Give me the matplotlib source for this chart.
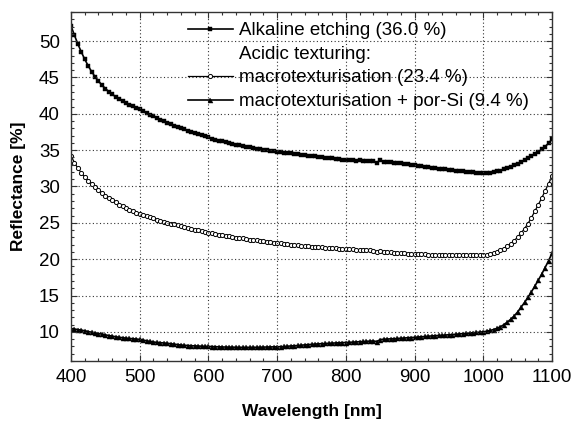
import numpy as np
import matplotlib
matplotlib.use("Agg")
import matplotlib.pyplot as plt
from matplotlib.lines import Line2D
from matplotlib.ticker import MultipleLocator

plt.rcParams['font.family'] = ['Liberation Sans', 'DejaVu Sans']

# Wavelength grid (nm), 5 nm steps, 400..1100
wavelength = list(range(400, 1101, 5))

alkaline = [
    52.1, 50.8, 49.6, 48.5, 47.5, 46.6, 45.8, 45.1, 44.5, 43.95,
    43.47, 43.05, 42.68, 42.35, 42.05, 41.77, 41.51, 41.27, 41.04, 40.82,
    40.6, 40.35, 40.1, 39.86, 39.63, 39.41, 39.19, 38.98, 38.77, 38.57,
    38.37, 38.19, 38.01, 37.84, 37.67, 37.51, 37.35, 37.2, 37.05, 36.9,
    36.76, 36.58, 36.45, 36.32, 36.2, 36.08, 35.97, 35.86, 35.76, 35.66,
    35.56, 35.47, 35.38, 35.3, 35.22, 35.14, 35.07, 35.0, 34.93, 34.86,
    34.8, 34.73, 34.66, 34.6, 34.54, 34.48, 34.42, 34.37, 34.32, 34.26,
    34.2, 34.14, 34.08, 34.02, 33.97, 33.92, 33.86, 33.8, 33.74, 33.69,
    33.64, 33.6, 33.6, 33.57, 33.58, 33.55, 33.52, 33.55, 33.5, 33.3,
    33.6, 33.42, 33.4, 33.33, 33.3, 33.25, 33.2, 33.15, 33.05, 33.0,
    32.92, 32.85, 32.78, 32.72, 32.66, 32.6, 32.52, 32.47, 32.4, 32.35,
    32.3, 32.24, 32.18, 32.12, 32.07, 32.02, 31.98, 31.95, 31.92, 31.9,
    31.88, 31.88, 31.9, 31.98, 32.08, 32.2, 32.35, 32.52, 32.7, 32.9,
    33.1, 33.35, 33.6, 33.88, 34.15, 34.45, 34.75, 35.1, 35.5, 35.95,
    36.5,
]

macro = [
    34.2, 33.3, 32.5, 31.9, 31.3, 30.8, 30.35, 29.9, 29.5, 29.1,
    28.75, 28.42, 28.1, 27.8, 27.52, 27.26, 27.02, 26.8, 26.6, 26.42,
    26.25, 26.08, 25.92, 25.76, 25.6, 25.45, 25.3, 25.16, 25.02, 24.9,
    24.78, 24.66, 24.54, 24.42, 24.3, 24.18, 24.06, 23.95, 23.84, 23.74,
    23.64, 23.54, 23.45, 23.37, 23.3, 23.22, 23.14, 23.06, 22.98, 22.91,
    22.85, 22.78, 22.71, 22.64, 22.58, 22.52, 22.46, 22.4, 22.34, 22.28,
    22.23, 22.17, 22.11, 22.05, 22.0, 21.95, 21.9, 21.86, 21.82, 21.78,
    21.74, 21.7, 21.66, 21.62, 21.58, 21.55, 21.52, 21.49, 21.46, 21.43,
    21.4, 21.38, 21.35, 21.32, 21.3, 21.27, 21.24, 21.22, 21.18, 21.0,
    21.15, 21.05, 21.0, 20.95, 20.92, 20.88, 20.85, 20.8, 20.78, 20.76,
    20.73, 20.7, 20.68, 20.66, 20.64, 20.62, 20.6, 20.58, 20.57, 20.56,
    20.55, 20.54, 20.54, 20.53, 20.53, 20.52, 20.52, 20.52, 20.53, 20.55,
    20.58, 20.62, 20.7, 20.82, 20.98, 21.2, 21.45, 21.75, 22.1, 22.55,
    23.05, 23.6, 24.2, 24.9, 25.7, 26.6, 27.5, 28.4, 29.4, 30.4,
    31.4,
]

porsi = [
    10.45, 10.4, 10.33, 10.25, 10.15, 10.05, 9.95, 9.86, 9.78, 9.7,
    9.6, 9.5, 9.42, 9.33, 9.26, 9.2, 9.15, 9.1, 9.06, 9.02,
    8.98, 8.88, 8.78, 8.7, 8.62, 8.56, 8.52, 8.48, 8.44, 8.38,
    8.32, 8.26, 8.2, 8.16, 8.13, 8.1, 8.08, 8.06, 8.04, 8.02,
    8.0, 7.98, 7.96, 7.94, 7.93, 7.92, 7.91, 7.9, 7.9, 7.89,
    7.88, 7.88, 7.88, 7.88, 7.89, 7.9, 7.9, 7.91, 7.92, 7.93,
    7.95, 7.97, 8.0, 8.03, 8.06, 8.1, 8.14, 8.18, 8.22, 8.26,
    8.3, 8.33, 8.36, 8.39, 8.42, 8.44, 8.46, 8.48, 8.5, 8.52,
    8.54, 8.57, 8.6, 8.63, 8.66, 8.69, 8.72, 8.74, 8.76, 8.68,
    8.95, 9.0, 9.02, 9.04, 9.07, 9.1, 9.13, 9.16, 9.19, 9.22,
    9.26, 9.3, 9.34, 9.38, 9.42, 9.45, 9.48, 9.51, 9.54, 9.57,
    9.6, 9.64, 9.68, 9.72, 9.76, 9.8, 9.85, 9.89, 9.93, 9.97,
    10.02, 10.1, 10.2, 10.33, 10.5, 10.72, 11.0, 11.35, 11.75, 12.2,
    12.75, 13.4, 14.05, 14.75, 15.5, 16.3, 17.1, 17.95, 18.85, 19.8,
    20.8,
]

labels = ["Alkaline etching (36.0 %)", "Acidic texturing:",
          "macrotexturisation (23.4 %)", "macrotexturisation + por-Si (9.4 %)"]
x_ticks = [400, 500, 600, 700, 800, 900, 1000, 1100]
y_ticks = [10, 15, 20, 25, 30, 35, 40, 45, 50]

fig = plt.figure(figsize=(5.74, 4.23), dpi=100)
ax = fig.add_axes([71/574, 1 - 361/423, (552-71)/574, (361-12)/423])

l1, = ax.plot(wavelength, alkaline, color='black', lw=1.2, marker='s',
              ms=2.2, mfc='black', mec='black', mew=0.3)
l2, = ax.plot(wavelength, macro, color='black', lw=0.9, marker='o',
              ms=3.0, mfc='white', mec='black', mew=0.7)
l3, = ax.plot(wavelength, porsi, color='black', lw=1.2, marker='^',
              ms=3.6, mfc='black', mec='black', mew=0.3)

ax.set_xlim(400, 1100)
ax.set_ylim(6, 54)
ax.set_xticks(x_ticks)
ax.set_yticks(y_ticks)
ax.xaxis.set_minor_locator(MultipleLocator(20))
ax.yaxis.set_minor_locator(MultipleLocator(1))
ax.tick_params(which='both', direction='in', top=True, right=True,
               color='#333333', width=0.8)
ax.tick_params(which='major', length=4.5, labelsize=13.5, pad=6)
ax.tick_params(axis='y', which='major', pad=8)
ax.tick_params(which='minor', length=2.5)
for s in ax.spines.values():
    s.set_color('#333333')
    s.set_linewidth(1.0)

ax.grid(True, which='major', color='#333333', linestyle=(0, (1, 2.2)), lw=0.8)
ax.set_axisbelow(False)

ax.set_xlabel("Wavelength [nm]", fontsize=12.5, fontweight='bold', labelpad=13)
ax.set_ylabel("Reflectance [%]", fontsize=12.5, fontweight='bold', labelpad=9)

blank = Line2D([], [], color='none')
leg = ax.legend([l1, blank, l2, l3], labels, loc='upper left',
                bbox_to_anchor=(188/574, 1 - 22/423), bbox_transform=fig.transFigure,
                frameon=False, fontsize=13.5, handlelength=2.4, handletextpad=0.3,
                labelspacing=0.35, borderaxespad=0, borderpad=0, numpoints=1)

fig.savefig("out.png", dpi=100)
